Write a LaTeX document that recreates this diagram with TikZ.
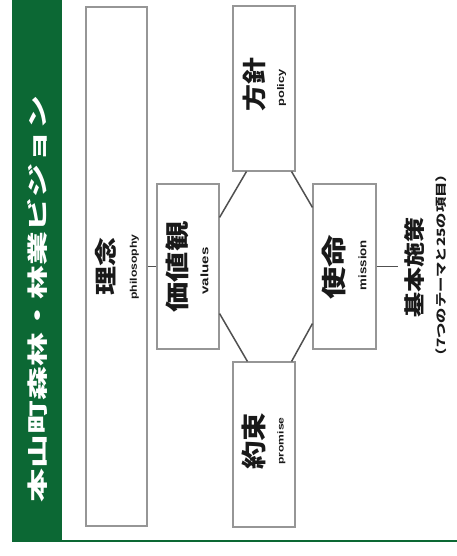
\documentclass[tikz,border=0pt]{standalone}
\usepackage{fontspec}
\usepackage{graphicx}
\newfontfamily\jp{Noto Sans CJK JP}
\newfontfamily\en{Liberation Sans}
\definecolor{bandgreen}{RGB}{12,104,52}
\definecolor{boxgray}{RGB}{150,150,150}
\definecolor{linkgray}{RGB}{80,80,80}
\definecolor{inkc}{RGB}{25,25,25}
\newcommand{\fitjp}[3]{\resizebox*{#1pt}{#2pt}{\jp\bfseries #3}}
\newcommand{\fiten}[3]{\resizebox*{#1pt}{#2pt}{\en\bfseries #3}}
\begin{document}
\begin{tikzpicture}[x=1pt,y=-1pt,
  panel/.style={draw=boxgray, line width=1.1pt, fill=white, inner sep=0pt,
    minimum width=62pt, minimum height=165pt},
  lbl/.style={rotate=90, inner sep=0pt, text=inkc},
  link/.style={draw=linkgray, line width=1.5pt}]
\useasboundingbox (0,0) rectangle (457,556);
\fill[white] (0,0) rectangle (457,556);
% green band and bottom rule
\fill[bandgreen] (12,0) rectangle (62,542);
\draw[bandgreen, line width=2pt] (12,541) -- (457,541);
\node[lbl, text=white] (title) at (37.5,299) {\fitjp{406}{20}{本山町森林・林業ビジョン}};
% boxes
\node[panel, minimum width=61pt, minimum height=519pt] (rinen) at (116.5,266.5) {};
\node[panel] (kachi) at (188,266.5) {};
\node[panel] (hoshin) at (264,88.5) {};
\node[panel] (yakusoku) at (264,444.5) {};
\node[panel, minimum width=63pt] (shimei) at (344.5,266.5) {};
% texts
\node[lbl] (rinenJ) at (105.5,266) {\fitjp{58}{21}{理念}};
\node[lbl] (rinenE) at (134.5,267) {\fiten{65}{9}{philosophy}};
\node[lbl] (kachiJ) at (177,267) {\fitjp{91}{23}{価値観}};
\node[lbl] (kachiE) at (204.5,271) {\fiten{47}{8}{values}};
\node[lbl] (hoshinJ) at (254,85) {\fitjp{54}{23}{方針}};
\node[lbl] (hoshinE) at (281.5,88) {\fiten{37}{9}{policy}};
\node[lbl] (yakuJ) at (253.5,441) {\fitjp{57}{24}{約束}};
\node[lbl] (yakuE) at (281.5,441) {\fiten{47}{8}{promise}};
\node[lbl] (shimeiJ) at (334,267) {\fitjp{65}{24}{使命}};
\node[lbl] (shimeiE) at (362.5,265) {\fiten{50}{8}{mission}};
\node[lbl] (kihonJ) at (414,267) {\fitjp{100}{20}{基本施策}};
\node[lbl] (kihonS) at (441,265) {\fitjp{196}{11}{（7つのテーマと25の項目）}};
\coordinate (kihonEnd) at (398,266.5);
% connectors
\draw[link] (rinen.east) -- (kachi.west);
\draw[link] ([yshift=-34pt]kachi.north east) -- ([xshift=14pt]hoshin.south west);
\draw[link] ([yshift=36pt]kachi.south east) -- ([xshift=15pt]yakusoku.north west);
\draw[link] ([xshift=-4pt]hoshin.south east) -- ([yshift=-24pt]shimei.north west);
\draw[link] ([xshift=-4pt]yakusoku.north east) -- ([yshift=26pt]shimei.south west);
\draw[link] (shimei.east) -- (kihonEnd);
\end{tikzpicture}
\end{document}
